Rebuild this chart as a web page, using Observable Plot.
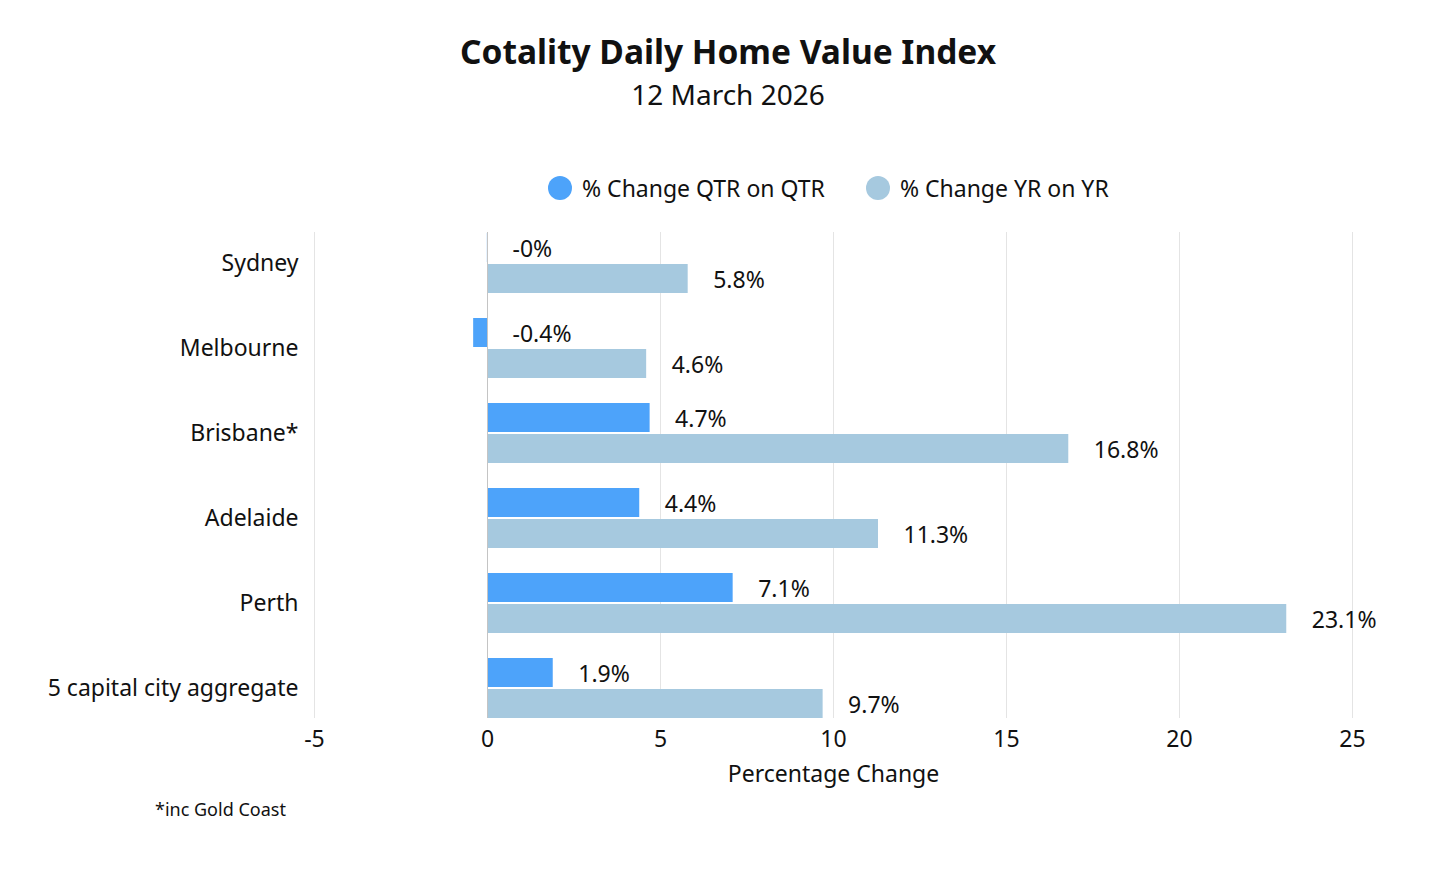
<!DOCTYPE html>
<html><head><meta charset="utf-8">
<script src="https://cdn.jsdelivr.net/npm/d3@7"></script>
<script src="https://cdn.jsdelivr.net/npm/@observablehq/plot@0.6"></script>
<style>
body{margin:0;background:#fff;font-family:"Noto Sans",sans-serif;color:#111;}
#wrap{position:relative;width:1456px;height:874px;overflow:hidden;}
.abs{position:absolute;white-space:nowrap;line-height:1;}
#title{left:0;width:1456px;text-align:center;top:35px;font-size:33.5px;font-weight:700;}
#subtitle{left:0;width:1456px;text-align:center;top:80px;font-size:28px;}
#legend{left:548px;top:176px;display:flex;align-items:center;font-size:23px;}
.sw{width:24px;height:24px;border-radius:50%;display:inline-block;margin-right:10px;}
.item{display:flex;align-items:center;margin-right:41px;}
#chart{position:absolute;left:0;top:225px;}
#caption{left:155px;top:800px;font-size:18px;}
</style></head>
<body><div id="wrap">
<div id="title" class="abs">Cotality Daily Home Value Index</div>
<div id="subtitle" class="abs">12 March 2026</div>
<div id="legend" class="abs"></div>
<div id="chart"></div>
<div id="caption" class="abs">*inc Gold Coast</div>
</div>
<script>
const cities = ["Sydney", "Melbourne", "Brisbane*", "Adelaide", "Perth", "5 capital city aggregate"];
const qtrValues = [-0.004, -0.4, 4.7, 4.4, 7.1, 1.9];
const yrValues = [5.8, 4.6, 16.8, 11.3, 23.1, 9.7];
const qtrLabels = ["-0%", "-0.4%", "4.7%", "4.4%", "7.1%", "1.9%"];
const yrLabels = ["5.8%", "4.6%", "16.8%", "11.3%", "23.1%", "9.7%"];
const seriesNames = ["% Change QTR on QTR", "% Change YR on YR"];
const seriesColors = ["#4DA3FA", "#A6C9DF"];
const xTicks = [-5, 0, 5, 10, 15, 20, 25];
const xLabel = "Percentage Change";

const rows = cities.map((c, i) => ({city: c, qtr: qtrValues[i], yr: yrValues[i], ql: qtrLabels[i], yl: yrLabels[i]}));

// legend
const lg = document.getElementById("legend");
seriesNames.forEach((n, i) => {
  const it = document.createElement("span"); it.className = "item";
  const sw = document.createElement("span"); sw.className = "sw"; sw.style.background = seriesColors[i];
  it.appendChild(sw); it.appendChild(document.createTextNode(n)); lg.appendChild(it);
});

const chart = Plot.plot({
  width: 1456, height: 575,
  marginTop: 7, marginBottom: 82, marginLeft: 314, marginRight: 104,
  style: {fontFamily: "Noto Sans, sans-serif", fontSize: "23px", color: "#111", background: "transparent"},
  x: {domain: [-5, 25]},
  y: {domain: cities, paddingInner: 0.296, paddingOuter: 0},
  marks: [
    Plot.ruleX(xTicks.filter(d => d !== 0), {stroke: "#e4e4e4", strokeWidth: 1}),
    Plot.barX(rows, {x1: 0, x2: "qtr", y: "city", fill: seriesColors[0], insetBottom: 31}),
    Plot.barX(rows, {x1: 0, x2: "yr", y: "city", fill: seriesColors[1], insetTop: 31}),
    Plot.ruleX([0], {stroke: "#c4c4c4", strokeWidth: 1}),
    Plot.text(rows, {x: d => Math.max(0, d.qtr), y: "city", text: "ql", textAnchor: "start", dx: 25, dy: -14, fontSize: 23, fill: "#111"}),
    Plot.text(rows, {x: d => Math.max(0, d.yr), y: "city", text: "yl", textAnchor: "start", dx: 25, dy: 17, fontSize: 23, fill: "#111"}),
    Plot.axisY({tickSize: 0, tickPadding: 16, fontSize: 23, label: null}),
    Plot.axisX({ticks: xTicks, tickSize: 0, tickPadding: 12, tickFormat: d => String(d), fontSize: 23, label: null}),
    Plot.text([xLabel], {text: d => d, frameAnchor: "bottom", dy: 63, fontSize: 23, fill: "#111"})
  ]
});
document.getElementById("chart").appendChild(chart);
</script>
</body></html>
